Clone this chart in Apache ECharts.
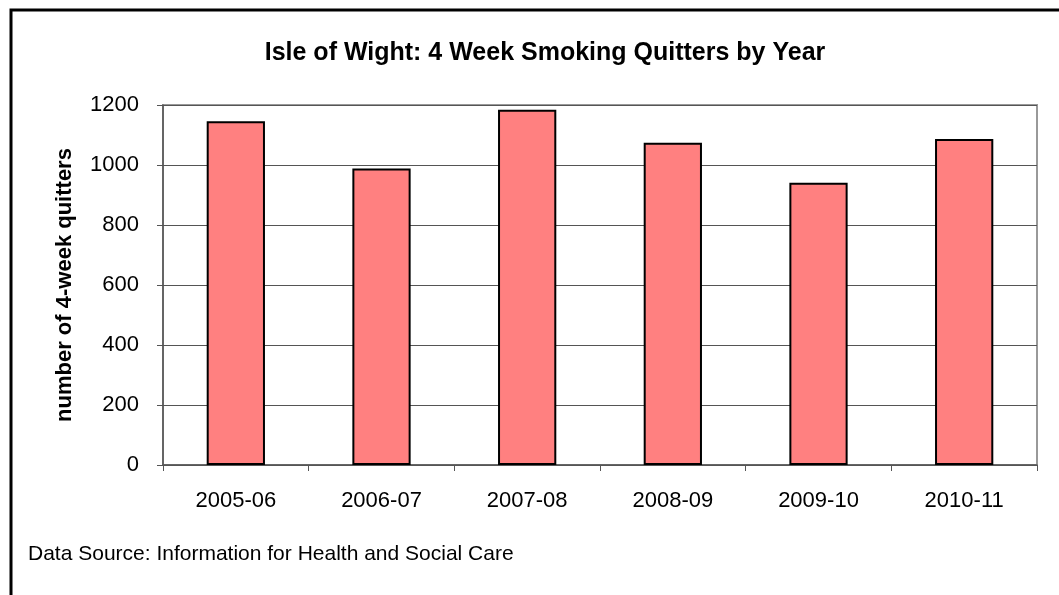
<!DOCTYPE html>
<html>
<head>
    <meta charset="utf-8">
    <script src="https://cdn.jsdelivr.net/npm/echarts@6/dist/echarts.min.js"></script>
    <style>
        html, body { margin: 0; padding: 0; background: #fff; }
    </style>
</head>
<body>
    <div id="chart" style="width: 1059px;height:595px;"></div>
    <script type="text/javascript">
        // data
        var years = ['2005-06', '2006-07', '2007-08', '2008-09', '2009-10', '2010-11'];
        var quitters = [1146, 988, 1184, 1074, 941, 1087];
        var yTicks = { min: 0, max: 1200, step: 200 };

        var font = 'Liberation Sans, Arial, sans-serif';
        var chart = echarts.init(document.getElementById('chart'));
        var option = {
            backgroundColor: '#fff',
            animation: false,
            title: {
                text: 'Isle of Wight: 4 Week Smoking Quitters by Year',
                left: 540,
                top: 36,
                textAlign: 'center',
                textStyle: { fontFamily: font, fontSize: 25, fontWeight: 'bold', color: '#000' }
            },
            grid: {
                left: 163, right: 22, top: 105, bottom: 130,
                show: true, borderColor: '#999', borderWidth: 2, backgroundColor: '#fff'
            },
            xAxis: {
                type: 'category',
                data: years,
                axisLine: { lineStyle: { color: '#555', width: 1.5 } },
                axisTick: { show: true, length: 6, lineStyle: { color: '#555' } },
                axisLabel: { margin: 25, fontFamily: font, fontSize: 22, color: '#000' }
            },
            yAxis: {
                type: 'value',
                min: yTicks.min, max: yTicks.max, interval: yTicks.step,
                name: 'number of 4-week quitters',
                nameLocation: 'middle',
                nameGap: 87,
                nameTextStyle: { fontFamily: font, fontSize: 22, fontWeight: 'bold', color: '#000' },
                axisLine: { show: true, lineStyle: { color: '#555', width: 1.5 } },
                axisTick: { show: true, length: 6, lineStyle: { color: '#555' } },
                axisLabel: {
                    margin: 24, fontFamily: font, fontSize: 22, color: '#000',
                    formatter: function (v) { return String(v); }
                },
                splitLine: { lineStyle: { color: '#555', width: 1.2 } }
            },
            series: [{
                type: 'bar',
                data: quitters,
                barCategoryGap: '60%',
                itemStyle: { color: '#FF8080', borderColor: '#000', borderWidth: 2 }
            }],
            graphic: [
                {
                    type: 'rect',
                    shape: { x: 11, y: 10, width: 1100, height: 700 },
                    style: { fill: 'none', stroke: '#000', lineWidth: 3 },
                    silent: true
                },
                {
                    type: 'text',
                    left: 28, top: 544,
                    style: {
                        text: 'Data Source: Information for Health and Social Care',
                        font: '21px ' + font,
                        fill: '#000'
                    }
                }
            ]
        };
        chart.setOption(option);
    </script>
</body>
</html>
